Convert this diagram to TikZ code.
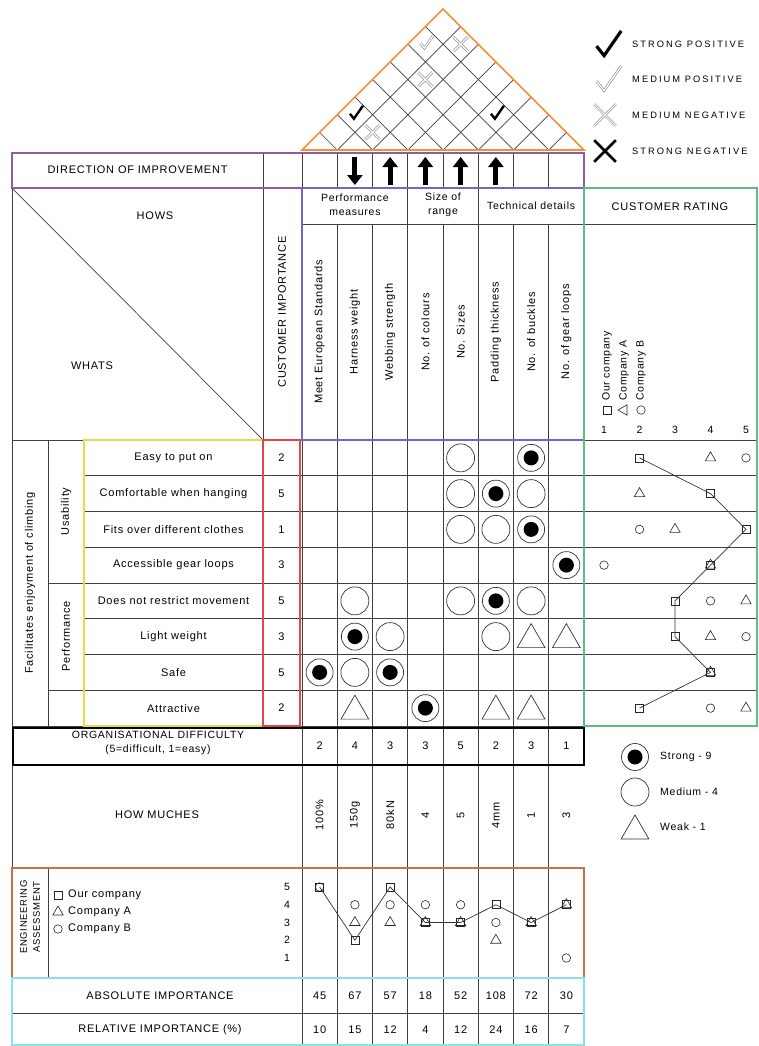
\documentclass[tikz,border=0pt]{standalone}
\usepackage{fontspec}
\setmainfont{Liberation Sans}[LetterSpace=7]
\usetikzlibrary{arrows.meta,shapes.geometric}
\definecolor{roofc}{HTML}{F0913A}
\definecolor{dirc}{HTML}{8C5E9E}
\definecolor{howc}{HTML}{6A68C8}
\definecolor{ratec}{HTML}{5CBF80}
\definecolor{whatc}{HTML}{E2DC50}
\definecolor{impc}{HTML}{E04848}
\definecolor{engc}{HTML}{C0744A}
\definecolor{totc}{HTML}{86E6E6}
\newcommand{\tick}[3]{\draw[#1,shift={(#2)},scale=#3] (-5,-1) -- (-1,4) -- (8,-9);}
\newcommand{\cross}[3]{\draw[#1,shift={(#2)},scale=#3] (-8,-8) -- (8,8) (-8,8) -- (8,-8);}
\newcommand{\legfont}{\fontspec{Liberation Sans}[LetterSpace=22]\fontsize{9.3}{11}\selectfont}

\begin{document}
\begin{tikzpicture}[x=1pt,y=-1pt,
	grid/.style={draw=black!75,line width=0.7pt},
	box/.style={line width=1.6pt},
	txt/.style={font=\fontsize{11}{13}\selectfont,inner sep=0pt},
	small/.style={font=\fontsize{10.5}{14}\selectfont,inner sep=0pt},
	vtxt/.style={txt,rotate=90},
	medium/.style={circle,draw=black!80,line width=0.7pt,minimum size=28pt,inner sep=0pt},
	strong/.style={medium,minimum size=27pt,path picture={\fill (path picture bounding box.center) circle (7.5pt);}},
	weak/.style={regular polygon,regular polygon sides=3,draw=black!80,line width=0.7pt,minimum size=32pt,inner sep=0pt},
	sq/.style={rectangle,draw=black!85,line width=0.6pt,minimum size=8pt,inner sep=0pt},
	tri/.style={regular polygon,regular polygon sides=3,draw=black!85,line width=0.6pt,minimum size=12pt,inner sep=0pt},
	cir/.style={circle,draw=black!85,line width=0.6pt,minimum size=8.5pt,inner sep=0pt},
	link/.style={draw=black!80,line width=0.7pt},
	arr/.style={line width=5pt,-{Triangle[width=15pt,length=10pt]}},
	strongtick/.style={line width=2.4pt},
	medtick/.style={draw=black!55,line width=0.5pt,double=white,double distance=1.4pt}]
	\useasboundingbox (0,0) rectangle (758,1046);

	\foreach \k in {1,...,7}
		\draw[grid] ({302+35.25*\k+17.625*(8-\k)},{150-17.625*(8-\k)}) -- ({302+35.25*\k},150) -- ({302+17.625*\k},{150-17.625*\k});
	\draw[roofc,box] (302,150) -- (443,9) -- (584,150) -- cycle;
	\coordinate (rf13) at (354.9,114.75);
	\coordinate (rf23) at (372.5,132.4);
	\coordinate (rf57) at (495.9,114.75);
	\coordinate (rf17) at (425.4,44.25);
	\coordinate (rf28) at (460.6,44.25);
	\coordinate (rf26) at (425.4,79.5);
	\tick{strongtick}{rf13}{1}
	\tick{strongtick}{rf57}{1}
	\tick{medtick}{rf17}{1}
	\cross{medtick}{rf23}{0.9}
	\cross{medtick}{rf28}{0.9}
	\cross{medtick}{rf26}{0.9}

	\draw[grid] (12,153) -- (12,1046) (263,153) -- (263,726) (302,153) -- (302,1046);
	\foreach \k in {1,...,7} {
		\draw[grid] ({302+35.25*\k},153) -- ({302+35.25*\k},188);
		\draw[grid] ({302+35.25*\k},224) -- ({302+35.25*\k},1046);
		\draw[grid] (84,{440+35.75*\k}) -- (757,{440+35.75*\k});
	}
	\draw[grid] (48,440) -- (48,726) (84,440) -- (84,726) (48,868) -- (48,978);
	\draw[grid] (407.75,188) -- (407.75,224) (478.25,188) -- (478.25,224);
	\draw[grid] (12,188) -- (263,440);
	\draw[grid] (12,440) -- (757,440) (302,224) -- (757,224);
	\draw[grid] (48,583) -- (84,583) (48,690.25) -- (84,690.25);
	\draw[grid] (12,726) -- (584,726) (12,1013) -- (584,1013);

	\draw[dirc,box] (12,153) rectangle (584,188);
	\draw[howc,box] (302,188) rectangle (584,440);
	\draw[ratec,box] (584,188) rectangle (757,726);
	\draw[whatc,box] (84,440) rectangle (263,726);
	\draw[impc,box] (263,440) rectangle (300,726);
	\draw[line width=2.6pt] (13,728) rectangle (584,765);
	\draw[engc,box] (12,868) rectangle (584,978);
	\draw[totc,box] (12,978) rectangle (584,1045);

	\foreach \i in {3,...,6}
		\draw[arr] ({302+35.25*(\i-0.5)},185) -- ({302+35.25*(\i-0.5)},157);
	\draw[arr] (354.9,157) -- (354.9,185);

	\node[txt] (dir) at (137.5,170) {DIRECTION OF IMPROVEMENT};
	\node[txt] (hows) at (155,216) {HOWS};
	\node[txt] (whats) at (92,366) {WHATS};
	\node[vtxt] (cimp) at (282,312) {CUSTOMER IMPORTANCE};
	\node[small,align=center] (perf) at (354.9,205) {Performance\\measures};
	\node[small,align=center] (size) at (443,205) {Size of\\range};
	\node[small] (tech) at (531.1,206) {Technical details};
	\node[txt] (crate) at (670,207) {CUSTOMER RATING};

	\foreach \t [count=\i] in {Meet European Standards,Harness weight,Webbing strength,No. of colours,No. Sizes,Padding thickness,No. of buckles,No. of gear loops}
		\node[vtxt] (how\i) at ({302+35.25*(\i-0.5)},332) {\t};
	\foreach \t/\v [count=\i] in {Easy to put on/2,Comfortable when hanging/5,Fits over different clothes/1,Accessible gear loops/3,Does not restrict movement/5,Light weight/3,Safe/5,Attractive/2} {
		\node[txt] (what\i) at (173.5,{440+35.75*(\i-0.5)}) {\t};
		\node[txt] (imp\i) at (281.5,{440+35.75*(\i-0.5)}) {\v};
	}
	\node[vtxt] (use) at (66,511.5) {Usability};
	\node[vtxt] (perfw) at (66,636.6) {Performance};
	\node[vtxt] (goal) at (30,583) {Facilitates enjoyment of climbing};

	\foreach \i/\j in {1/7,2/6,3/7,4/8,5/6,6/2,7/1,7/3,8/4}
		\node[strong] (s\i\j) at ({302+35.25*(\j-0.5)},{440+35.75*(\i-0.5)}) {};
	\foreach \i/\j in {1/5,2/5,2/7,3/5,3/6,5/2,5/5,5/7,6/3,6/6,7/2}
		\node[medium] (m\i\j) at ({302+35.25*(\j-0.5)},{440+35.75*(\i-0.5)}) {};
	\foreach \i/\j in {6/7,6/8,8/2,8/6,8/7}
		\node[weak] (w\i\j) at ({302+35.25*(\j-0.5)},{443+35.75*(\i-0.5)}) {};

	\foreach \s/\t/\c [count=\i] in {2/4/5,4/2/0,5/3/2,4/4/1,3/5/4,3/4/5,4/4/0,2/5/4} {
		\node[tri] (ct\i) at ({604+35.5*(\t-1)},{440+35.75*(\i-0.5)}) {};
		\ifnum\c>0 \node[cir] (cc\i) at ({604+35.5*(\c-1)},{440+35.75*(\i-0.5)}) {}; \fi
		\node[sq] (cs\i) at ({604+35.5*(\s-1)},{440+35.75*(\i-0.5)}) {};
	}
	\draw[link] (cs1.center) -- (cs2.center) -- (cs3.center) -- (cs4.center) -- (cs5.center) -- (cs6.center) -- (cs7.center) -- (cs8.center);
	\node[sq] (ls1) at (607,410) {};
	\node[tri,rotate=90] (ls2) at (624,410) {};
	\node[cir] (ls3) at (641,410) {};
	\node[vtxt,small,anchor=west] (lt1) at (607,401) {Our company};
	\node[vtxt,small,anchor=west] (lt2) at (624,401) {Company A};
	\node[vtxt,small,anchor=west] (lt3) at (641,401) {Company B};
	\foreach \n in {1,...,5}
		\node[small] (rn\n) at ({604+35.5*(\n-1)},430) {\n};

	\node[small,align=center] (org) at (158,743) {ORGANISATIONAL DIFFICULTY\\(5=difficult, 1=easy)};
	\node[txt] (much) at (157,815) {HOW MUCHES};
	\node[txt] (abs) at (160,995.5) {ABSOLUTE IMPORTANCE};
	\node[txt] (rel) at (160,1029.5) {RELATIVE IMPORTANCE (\%)};
	\foreach \d/\h/\a/\r [count=\i] in {2/100\%/45/10,4/150g/67/15,3/80kN/57/12,3/4/18/4,5/5/52/12,2/4mm/108/24,3/1/72/16,1/3/30/7} {
		\node[txt] (od\i) at ({302+35.25*(\i-0.5)},746) {\d};
		\node[vtxt] (hm\i) at ({302+35.25*(\i-0.5)},815) {\h};
		\node[txt] (ai\i) at ({302+35.25*(\i-0.5)},995.5) {\a};
		\node[txt] (ri\i) at ({302+35.25*(\i-0.5)},1029.5) {\r};
	}

	\node[small,rotate=90,align=center,font=\fontsize{9.5}{13}\selectfont] (eng) at (30,917) {ENGINEERING\\ASSESSMENT};
	\node[sq] (el1) at (58,895) {};
	\node[tri] (el2) at (58,912) {};
	\node[cir] (el3) at (58,929) {};
	\node[txt,anchor=west] (elt1) at (68,895) {Our company};
	\node[txt,anchor=west] (elt2) at (68,912) {Company A};
	\node[txt,anchor=west] (elt3) at (68,929) {Company B};
	\foreach \n in {1,...,5}
		\node[small] (sc\n) at (287,{958-17.75*(\n-1)}) {\n};
	\foreach \s/\t/\c [count=\i] in {5/0/5,2/3/4,5/3/4,3/3/4,3/3/4,4/2/3,3/3/0,4/4/1} {
		\ifnum\t>0 \node[tri] (et\i) at ({302+35.25*(\i-0.5)},{958-17.75*(\t-1)}) {}; \fi
		\ifnum\c>0 \node[cir] (ec\i) at ({302+35.25*(\i-0.5)},{958-17.75*(\c-1)}) {}; \fi
		\node[sq] (es\i) at ({302+35.25*(\i-0.5)},{958-17.75*(\s-1)}) {};
	}
	\draw[link] (es1.center) -- (es2.center) -- (es3.center) -- (es4.center) -- (es5.center) -- (es6.center) -- (es7.center) -- (es8.center);

	\coordinate (lg1) at (606,48);
	\coordinate (lg2) at (606,83);
	\coordinate (lg3) at (605,115);
	\coordinate (lg4) at (605,151);
	\tick{strongtick,line width=3.2pt}{lg1}{1.9}
	\tick{medtick}{lg2}{1.9}
	\cross{medtick}{lg3}{1.35}
	\cross{line width=2.8pt}{lg4}{1.35}
	\node[anchor=west,inner sep=0pt,font=\legfont] (lgt1) at (632,44) {STRONG POSITIVE};
	\node[anchor=west,inner sep=0pt,font=\legfont] (lgt2) at (632,79) {MEDIUM POSITIVE};
	\node[anchor=west,inner sep=0pt,font=\legfont] (lgt3) at (632,115) {MEDIUM NEGATIVE};
	\node[anchor=west,inner sep=0pt,font=\legfont] (lgt4) at (632,151) {STRONG NEGATIVE};

	\node[strong] (ks) at (635,757) {};
	\node[medium] (km) at (635,792) {};
	\node[weak] (kw) at (635,831) {};
	\node[small,anchor=west] (kst) at (660,757) {Strong - 9};
	\node[small,anchor=west] (kmt) at (660,792) {Medium - 4};
	\node[small,anchor=west] (kwt) at (660,827) {Weak - 1};
\end{tikzpicture}
\end{document}
